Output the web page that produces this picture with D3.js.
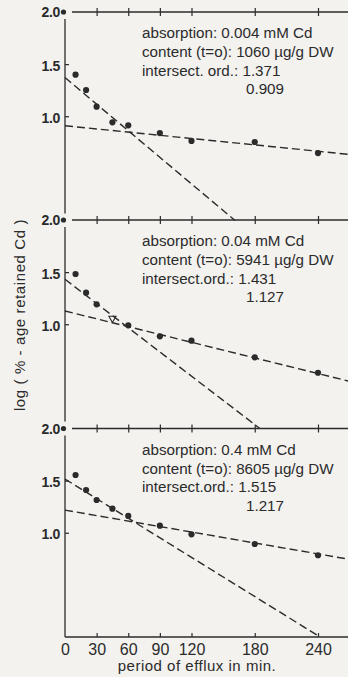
<!DOCTYPE html>
<html>
<head>
<meta charset="utf-8">
<script src="https://cdn.jsdelivr.net/npm/d3@7"></script>
<style>
  body { margin: 0; background: #f3f2ef; }
  svg { display: block; }
  text { fill: #2b2b2b; }
</style>
</head>
<body>
<div id="mount"></div>
<script>
// efflux times (min) and log(% retained) per absorption level
var times = [10, 20, 30, 45, 60, 90, 120, 180, 240];
var retained004 = [1.399, 1.252, 1.092, 0.942, 0.913, 0.839, 0.763, 0.753, 0.647];
var retained04 = [1.482, 1.303, 1.191, 1.057, 0.990, 0.884, 0.842, 0.683, 0.535];
var retained4 = [1.554, 1.410, 1.314, 1.231, 1.161, 1.068, 0.985, 0.892, 0.784];

var absorption = ['0.004', '0.04', '0.4'];
var contents = ['1060', '5941', '8605'];
var ordLabels = ['intersect. ord.:', 'intersect.ord.:', 'intersect.ord.:'];
var fastOrd = [1.371, 1.431, 1.515];
var slowOrd = [0.909, 1.127, 1.217];
var fastSlope = [-0.0085, -0.00774, -0.00626];
var slowSlope = [-0.00102, -0.0025, -0.00175];

var xTicks = [0, 30, 60, 90, 120, 180, 240];
var yTicks = [1.5, 1.0];
var oddPoint = [-1, 3, -1]; // middle panel 45 min drawn as an open mark

var WIDTH = 348, HEIGHT = 677;
var PANEL_H = 208.5;
var tops = [12, 220, 428.5];
var INK = '#2b2b2b';

var x = d3.scaleLinear().domain([0, 240]).range([65, 318]);
var tMax = x.invert(WIDTH);

var svg = d3.select('#mount').append('svg')
  .attr('width', WIDTH)
  .attr('height', HEIGHT);

var series = [retained004, retained04, retained4];

series.forEach(function (vals, i) {
  var top = tops[i];
  var y = d3.scaleLinear().domain([0, 2]).range([top + PANEL_H, top]);
  var g = svg.append('g');

  // top line with crossing ticks
  var topAxis = d3.axisBottom(x).tickValues(xTicks.slice(1)).tickSize(4).tickFormat('');
  var ta = g.append('g').attr('transform', 'translate(0,' + y(2) + ')').call(topAxis);
  ta.select('.domain').remove();
  ta.selectAll('.tick line').attr('y1', -4).attr('y2', 4).attr('stroke', INK).attr('stroke-width', 1.2);
  g.append('line')
    .attr('x1', x(0) + 7).attr('x2', WIDTH)
    .attr('y1', y(2)).attr('y2', y(2))
    .attr('stroke', INK).attr('stroke-width', 1.3);

  // 2.0 label and dot
  g.append('circle').attr('cx', x(0) - 1.5).attr('cy', y(2)).attr('r', 2.6).attr('fill', INK);
  g.append('text')
    .attr('x', x(0) - 5).attr('y', y(2)).attr('dy', '0.38em')
    .attr('text-anchor', 'end')
    .style('font', 'bold 14px "Liberation Sans"')
    .style('letter-spacing', '-0.3px')
    .text('2.0');

  // left axis
  var leftAxis = d3.axisLeft(y).tickValues(yTicks).tickSize(-4).tickPadding(5)
    .tickFormat(d3.format('.1f'));
  var la = g.append('g').attr('transform', 'translate(' + x(0) + ',0)').call(leftAxis);
  la.select('.domain').remove();
  la.selectAll('.tick line').attr('stroke', INK).attr('stroke-width', 1.2);
  la.selectAll('.tick text')
    .attr('dy', '0.42em')
    .style('font', 'bold 14px "Liberation Sans"')
    .style('letter-spacing', '-0.3px')
    .attr('fill', INK);
  g.append('line')
    .attr('x1', x(0)).attr('x2', x(0))
    .attr('y1', y(2) + 7).attr('y2', i === 2 ? y(0) : y(0) - 7)
    .attr('stroke', INK).attr('stroke-width', 1.3);

  // fitted lines
  var line = d3.line().x(function (d) { return x(d[0]); }).y(function (d) { return y(d[1]); });
  var tEnd = -fastOrd[i] / fastSlope[i];
  g.append('path')
    .attr('d', line([[0, fastOrd[i]], [tEnd, 0]]))
    .attr('fill', 'none').attr('stroke', INK).attr('stroke-width', 1.4)
    .attr('stroke-dasharray', '8,4');
  g.append('path')
    .attr('d', line([[0, slowOrd[i]], [tMax, slowOrd[i] + slowSlope[i] * tMax]]))
    .attr('fill', 'none').attr('stroke', INK).attr('stroke-width', 1.4)
    .attr('stroke-dasharray', '8,4');

  // points
  var pts = times.map(function (t, j) { return { t: t, v: vals[j], j: j }; });
  g.selectAll('circle.pt')
    .data(pts.filter(function (d) { return d.j !== oddPoint[i]; }))
    .enter().append('circle')
    .attr('class', 'pt')
    .attr('cx', function (d) { return x(d.t); })
    .attr('cy', function (d) { return y(d.v); })
    .attr('r', 3.1)
    .attr('fill', INK);
  g.selectAll('path.odd')
    .data(pts.filter(function (d) { return d.j === oddPoint[i]; }))
    .enter().append('path')
    .attr('class', 'odd')
    .attr('d', d3.symbol().type(d3.symbolTriangle).size(22))
    .attr('transform', function (d) { return 'translate(' + x(d.t) + ',' + y(d.v) + ') rotate(180)'; })
    .attr('fill', 'none').attr('stroke', INK).attr('stroke-width', 1.1);

  // annotation
  var ann = g.append('g')
    .style('font', '15.2px "Liberation Sans"');
  ann.append('text').attr('x', 142).attr('y', top + 26)
    .text('absorption: ' + absorption[i] + ' mM Cd');
  ann.append('text').attr('x', 142).attr('y', top + 45)
    .text('content (t=o): ' + contents[i] + ' \u00b5g/g DW');
  ann.append('text').attr('x', 142).attr('y', top + 63.5)
    .text(ordLabels[i] + ' ' + fastOrd[i].toFixed(3));
  ann.append('text').attr('x', 246).attr('y', top + 82)
    .text(slowOrd[i].toFixed(3));
});

// bottom axis
var yBottom = tops[2] + PANEL_H;
var bottomAxis = d3.axisBottom(x).tickValues(xTicks).tickSize(-4).tickPadding(6.5);
var ba = svg.append('g').attr('transform', 'translate(0,' + yBottom + ')').call(bottomAxis);
ba.select('.domain').remove();
ba.selectAll('.tick line')
  .attr('stroke', INK).attr('stroke-width', 1.2)
  .filter(function (d) { return d === 0; }).remove();
ba.selectAll('.tick text')
  .style('font', '16px "Liberation Sans"')
  .attr('fill', INK);
svg.append('line')
  .attr('x1', x(0)).attr('x2', WIDTH)
  .attr('y1', yBottom).attr('y2', yBottom)
  .attr('stroke', INK).attr('stroke-width', 1.3);

svg.append('text')
  .attr('x', 197).attr('y', 671)
  .attr('text-anchor', 'middle')
  .style('font', '15px "Liberation Sans"')
  .style('letter-spacing', '0.5px')
  .text('period of efflux in min.');

svg.append('text')
  .attr('transform', 'translate(25,315) rotate(-90)')
  .attr('text-anchor', 'middle')
  .style('font', '15px "Liberation Sans"')
  .style('letter-spacing', '0.6px')
  .text('log ( % - age retained Cd )');
</script>
</body>
</html>
